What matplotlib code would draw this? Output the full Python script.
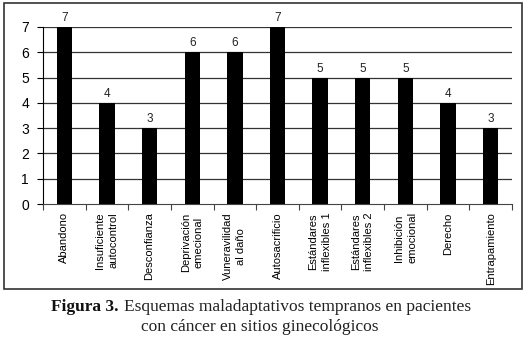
import numpy as np
import matplotlib
matplotlib.use("Agg")
import matplotlib.pyplot as plt
from matplotlib.patches import Rectangle

plt.rcParams["font.family"] = ["Liberation Sans", "DejaVu Sans"]

# datos
categorias = ["Abandono", "Insuficiente\nautocontrol", "Desconfianza",
              "Deprivación\nemecional", "Vuneravilidad\nal daño", "Autosacrificio",
              "Estándares\ninflexibles 1", "Estándares\ninflexibles 2",
              "Inhibición\nemocional", "Derecho", "Entrapamiento"]
valores = [7, 4, 3, 6, 6, 7, 5, 5, 5, 4, 3]
yticks = [0, 1, 2, 3, 4, 5, 6, 7]

fig = plt.figure(figsize=(5.26, 3.44), dpi=100)
ax = fig.add_axes([43 / 526, 1 - 204 / 344, (512 - 43) / 526, (204 - 27) / 344])

x = np.arange(len(valores))
ax.bar(x, valores, width=0.36, color="black", zorder=3)
for xi, v in zip(x, valores):
    ax.text(xi, v + 0.12, str(v), ha="center", va="bottom", fontsize=8.5, color="#222222")

ax.set_xlim(-0.5, len(valores) - 0.5)
ax.set_ylim(0, 7)
ax.set_yticks(yticks)
ax.set_yticklabels([str(t) for t in yticks], fontsize=10)
for t in yticks[1:]:
    ax.axhline(t, color="#333333", lw=0.9, zorder=1)

# ticks en los limites de categoria, etiquetas al centro
ax.set_xticks(np.arange(len(valores) + 1) - 0.5)
ax.set_xticklabels([])
ax.set_xticks(x, minor=True)
ax.set_xticklabels(categorias, minor=True, rotation=90, fontsize=8,
                   va="top", ha="center", multialignment="center", linespacing=1.4)
ax.tick_params(axis="x", which="major", length=4, direction="out", width=0.8, color="#444444")
ax.tick_params(axis="x", which="minor", length=0, pad=6)
ax.tick_params(axis="y", length=4, direction="out", width=0.8, pad=6)

ax.spines["top"].set_visible(False)
ax.spines["right"].set_visible(False)
ax.spines["left"].set_color("black")
ax.spines["bottom"].set_color("#444444")

# marco del grafico
fig.patches.append(Rectangle((4 / 526, 1 - 289 / 344), (522 - 4) / 526, (289 - 3) / 344,
                             transform=fig.transFigure, fill=False, edgecolor="#333333", lw=1.2))

# pie de figura
serif = ["Liberation Serif", "DejaVu Serif"]
t_bold = fig.text(51 / 526, 1 - 315 / 344, "Figura 3.", family=serif, fontweight="bold",
                  fontsize=12.5, ha="left", va="bottom", color="#111111")
ax.annotate("Esquemas maladaptativos tempranos en pacientes", xy=(1, 0), xycoords=t_bold,
            xytext=(4, 0), textcoords="offset points", family=serif, fontsize=12.5,
            ha="left", va="bottom", color="#222222", annotation_clip=False)
fig.text(141 / 526, 1 - 331 / 344, "con cáncer en sitios ginecológicos",
         family=serif, fontsize=12.5, ha="left", va="baseline", color="#222222")

fig.savefig("out.png", dpi=100)
